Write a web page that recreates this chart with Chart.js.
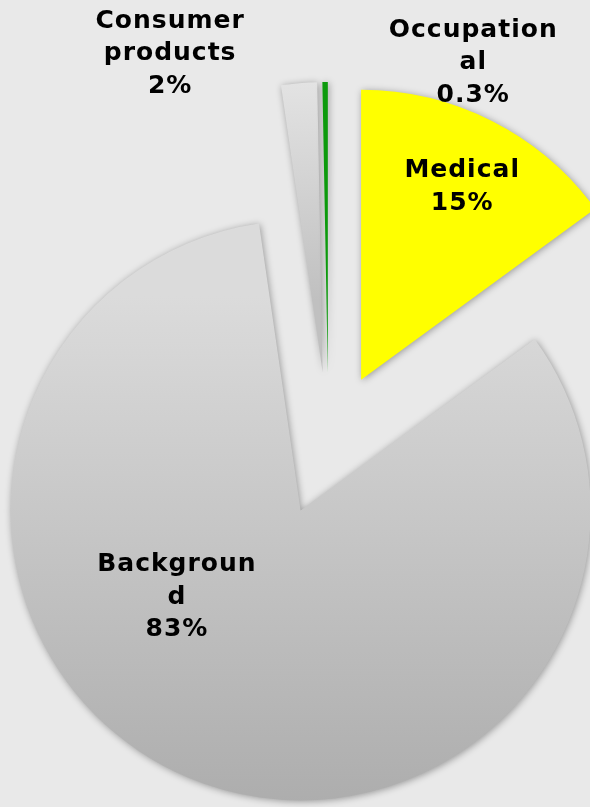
<!DOCTYPE html>
<html>
<head>
<meta charset="utf-8">
<script src="https://cdn.jsdelivr.net/npm/chart.js@4.4.1/dist/chart.umd.min.js"></script>
<style>
  html, body { margin: 0; padding: 0; background: #e9e9e9; }
  #wrap { width: 590px; height: 807px; position: relative; }
</style>
</head>
<body>
<div id="wrap"><canvas id="myChart"></canvas></div>
<script>
// data (clockwise from 12 o'clock)
const categories = ["Medical", "Background", "Consumer products", "Occupational"];
const shares = [15, 83, 2, 0.3];
const percentLabels = ["15%", "83%", "2%", "0.3%"];
// how the labels wrap in the original
const labelLines = [
  ["Medical", percentLabels[0]],
  ["Backgroun", "d", percentLabels[1]],
  ["Consumer", "products", percentLabels[2]],
  ["Occupation", "al", percentLabels[3]],
];

// label anchors: angle (deg clockwise from top) and distance as a share of the radius
const labelPlacement = [
  [27.3, 1.005],
  [225.1, 0.738],
  [338.0, 1.458],
  [20.7, 1.412],
];

const RADIUS = 290;
const EXPLODE = 72; // how far each slice is pulled out, px

const ctx = document.getElementById("myChart");

function sliceColor(c) {
  const i = c.dataIndex;
  const chart = c.chart;
  if (i === 0) return "#ffff00";
  if (i === 3) return "#0c9a0c";
  const g = chart.ctx.createLinearGradient(0, i === 1 ? 230 : 85, 0, i === 1 ? 805 : 372);
  if (i === 1) {
    g.addColorStop(0, "#dbdbdb");
    g.addColorStop(1, "#a7a7a7");
  } else {
    g.addColorStop(0, "#eeeeee");
    g.addColorStop(1, "#c0c0c0");
  }
  return g;
}

// exploded slices with a soft shadow: Chart.js' own offset also narrows
// thin slices away, so each arc is just shifted along its mid angle here
const explodePlugin = {
  id: "explode",
  beforeDatasetDraw(chart, args) {
    const c = chart.ctx;
    args.meta.data.forEach((arc) => {
      const mid = (arc.startAngle + arc.endAngle) / 2;
      c.save();
      c.shadowColor = "rgba(0,0,0,0.35)";
      c.shadowBlur = 7;
      c.shadowOffsetX = 1;
      c.shadowOffsetY = 1;
      c.translate(Math.cos(mid) * EXPLODE, Math.sin(mid) * EXPLODE);
      arc.draw(c);
      c.restore();
    });
    return false;
  },
};

// text labels, placed around each arc's centre
const labelPlugin = {
  id: "sliceLabels",
  afterDraw(chart) {
    const c = chart.ctx;
    const arcs = chart.getDatasetMeta(0).data;
    c.save();
    c.fillStyle = "#000000";
    c.font = "bold 25px 'DejaVu Sans'";
    c.letterSpacing = "1px";
    c.textAlign = "center";
    c.textBaseline = "middle";
    const lineH = 32.5;
    arcs.forEach((arc, i) => {
      const [deg, f] = labelPlacement[i];
      const a = (deg * Math.PI) / 180;
      const r = RADIUS * f;
      const cx = arc.x + Math.sin(a) * r;
      const cy = arc.y - Math.cos(a) * r + 2;
      const lines = labelLines[i];
      const top = cy - ((lines.length - 1) * lineH) / 2;
      lines.forEach((t, k) => c.fillText(t, cx, top + k * lineH));
    });
    c.restore();
  },
};

new Chart(ctx, {
  type: "pie",
  data: {
    labels: categories,
    datasets: [
      {
        data: shares,
        backgroundColor: sliceColor,
        borderWidth: 0,
        offset: 0,
        hoverOffset: 0,
        radius: RADIUS,
        clip: false,
      },
    ],
  },
  options: {
    responsive: true,
    maintainAspectRatio: false,
    animation: false,
    layout: { padding: { left: 67, right: 0, top: 81, bottom: 0 } },
    plugins: {
      legend: { display: false },
      tooltip: { enabled: false },
    },
  },
  plugins: [explodePlugin, labelPlugin],
});
</script>
</body>
</html>
